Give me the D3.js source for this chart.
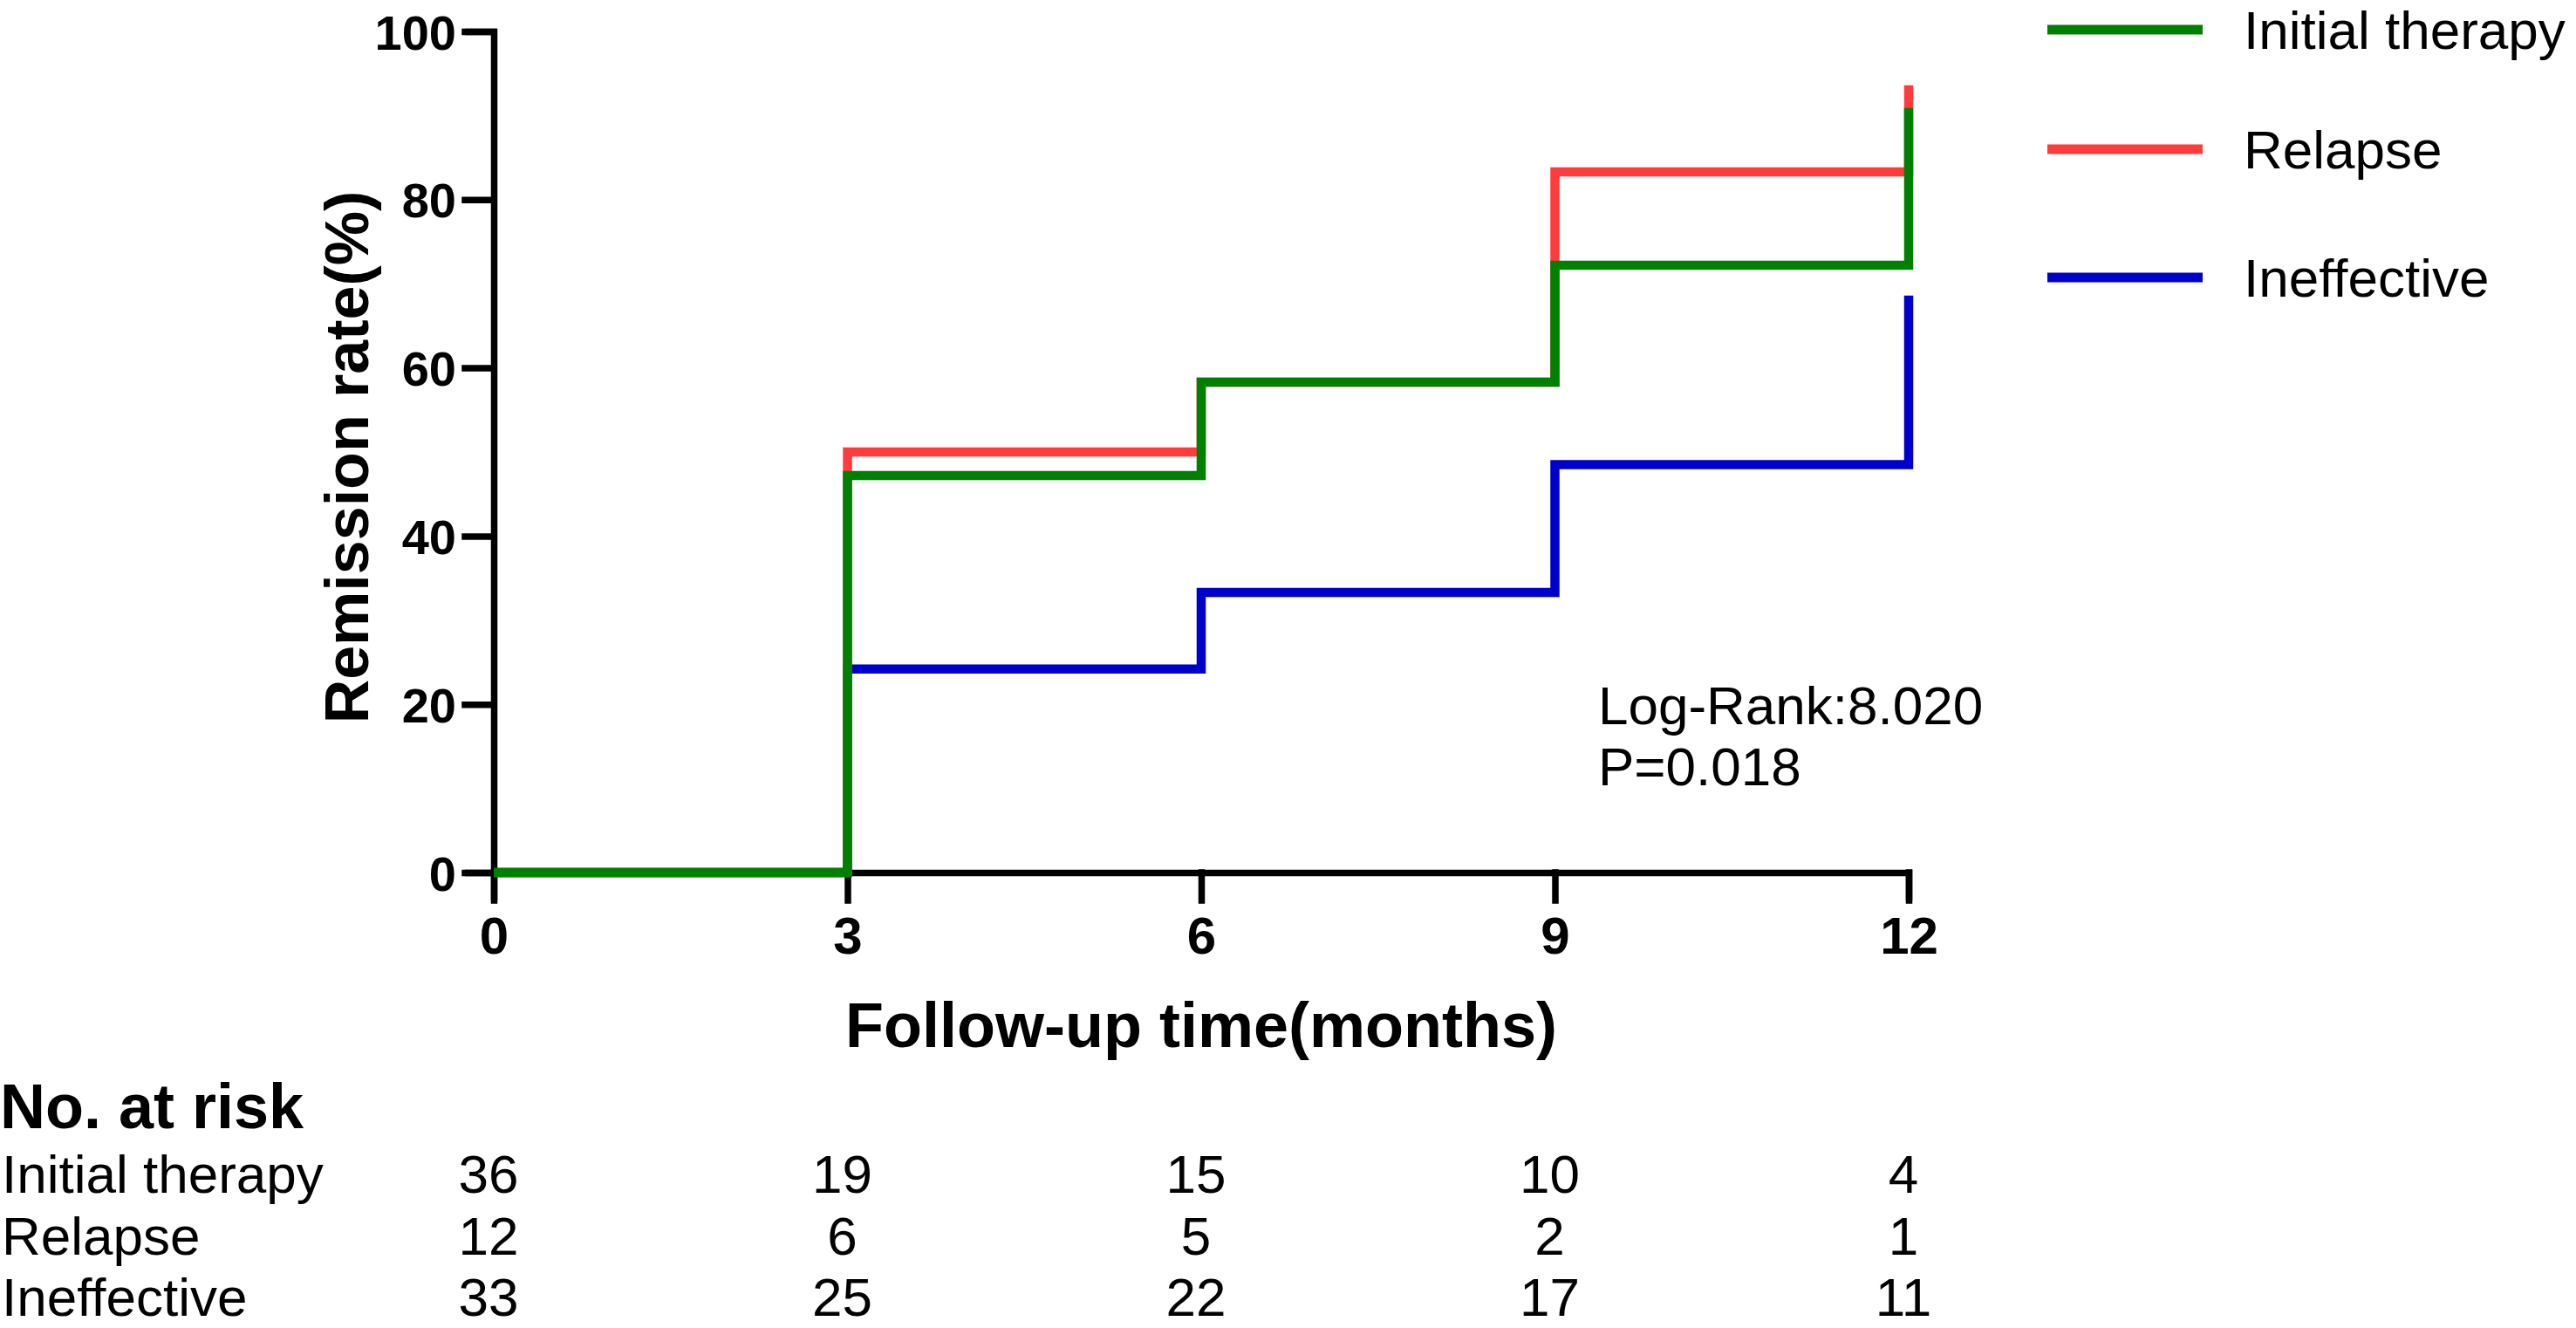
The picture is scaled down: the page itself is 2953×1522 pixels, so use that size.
<!DOCTYPE html>
<html lang="en">
<head>
  <meta charset="UTF-8">
  <title>Remission rate by group</title>
  <script src="https://d3js.org/d3.v7.min.js"></script>
  <style>
    html, body {
      margin: 0;
      padding: 0;
      background: #fff;
    }
    svg {
      display: block;
      font-family: "Liberation Sans", Arial, sans-serif;
    }
  </style>
</head>
<body>
  <div id="chart"></div>

  <script>
    // ---- data ----
    const months = [0, 3, 6, 9, 12];
    const groups = ["Initial therapy", "Relapse", "Ineffective"];
    const initialRate = [0, 47.2, 58.3, 72.2, 90.9];
    const relapseRate = [0, 50.0, 58.3, 83.3, 93.6];
    const ineffectiveRate = [0, 24.2, 33.3, 48.5, 68.6];
    const yTicks = [0, 20, 40, 60, 80, 100];
    const xTicks = [0, 3, 6, 9, 12];
    const riskInitial = [36, 19, 15, 10, 4];
    const riskRelapse = [12, 6, 5, 2, 1];
    const riskIneffective = [33, 25, 22, 17, 11];
    const statLines = ["Log-Rank:8.020", "P=0.018"];

    const width = 2953, height = 1522;
    const colors = {
      "Initial therapy": "#008000",
      "Relapse": "#ff3b3b",
      "Ineffective": "#0000cc"
    };

    const svg = d3.select("#chart").append("svg")
        .attr("width", width)
        .attr("height", height);

    const x = d3.scaleLinear().domain([0, 12]).range([566, 2188]);
    const y = d3.scaleLinear().domain([0, 100]).range([1000, 36]);

    // axes
    const xAxis = svg.append("g")
        .attr("transform", `translate(0,${y(0)})`)
        .call(d3.axisBottom(x).tickValues(xTicks).tickSize(32).tickSizeOuter(32).tickFormat(d3.format("d")));
    const yAxis = svg.append("g")
        .attr("transform", `translate(${x(0)},0)`)
        .call(d3.axisLeft(y).tickValues(yTicks).tickSize(33).tickSizeOuter(33));

    [xAxis, yAxis].forEach(g => {
      g.selectAll("path, line")
        .attr("stroke", "#000")
        .attr("stroke-width", 7.5)
        .attr("stroke-linecap", "square");
      g.select(".domain").attr("stroke-linejoin", "miter").attr("stroke-linecap", "butt");
      g.selectAll("text")
        .attr("fill", "#000")
        .attr("font-family", "'Liberation Sans', Arial, sans-serif")
        .attr("font-weight", "bold");
    });
    xAxis.selectAll("text")
        .attr("font-size", 60)
        .attr("y", 93)
        .attr("dy", 0);
    yAxis.selectAll("text")
        .attr("font-size", 56)
        .attr("x", -43)
        .attr("dy", 20);

    // curves (green drawn last, on top)
    const series = [
      {name: "Ineffective", values: ineffectiveRate},
      {name: "Relapse", values: relapseRate},
      {name: "Initial therapy", values: initialRate}
    ];

    const line = d3.line()
        .x((d, i) => x(months[i]))
        .y(d => y(d))
        .curve(d3.curveStepAfter);

    svg.append("g")
      .selectAll("path")
      .data(series)
      .join("path")
        .attr("d", d => line(d.values))
        .attr("fill", "none")
        .attr("stroke", d => colors[d.name])
        .attr("stroke-width", 10.5)
        .attr("stroke-linejoin", "miter")
        .attr("stroke-linecap", "butt");

    // axis titles
    svg.append("text")
        .attr("x", (x(0) + x(12)) / 2)
        .attr("y", 1200)
        .attr("text-anchor", "middle")
        .attr("font-size", 72)
        .attr("font-weight", "bold")
        .text("Follow-up time(months)");

    svg.append("text")
        .attr("transform", `translate(422,${(y(0) + y(100)) / 2 + 6}) rotate(-90)`)
        .attr("text-anchor", "middle")
        .attr("font-size", 70)
        .attr("font-weight", "bold")
        .text("Remission rate(%)");

    // log-rank annotation
    svg.append("g")
      .selectAll("text")
      .data(statLines)
      .join("text")
        .attr("x", 1832)
        .attr("y", (d, i) => 830 + i * 70)
        .attr("font-size", 62)
        .text(d => d);

    // legend
    const legendY = [34, 171, 318];
    const legend = svg.append("g")
      .selectAll("g")
      .data(groups)
      .join("g")
        .attr("transform", (d, i) => `translate(0,${legendY[i]})`);
    legend.append("line")
        .attr("x1", 2347).attr("x2", 2525)
        .attr("stroke", d => colors[d])
        .attr("stroke-width", 11);
    legend.append("text")
        .attr("x", 2572)
        .attr("y", 22)
        .attr("font-size", 62)
        .text(d => d);

    // number at risk table
    svg.append("text")
        .attr("x", 0)
        .attr("y", 1293)
        .attr("font-size", 72)
        .attr("font-weight", "bold")
        .text("No. at risk");

    const riskRows = [riskInitial, riskRelapse, riskIneffective];
    const rowY = [1367, 1438, 1508];
    const rows = svg.append("g")
      .selectAll("g")
      .data(riskRows)
      .join("g")
        .attr("transform", (d, i) => `translate(0,${rowY[i]})`);
    rows.append("text")
        .attr("x", 2)
        .attr("font-size", 62)
        .text((d, i) => groups[i]);
    rows.selectAll("text.n")
      .data(d => d)
      .join("text")
        .attr("class", "n")
        .attr("x", (d, i) => x(months[i]) - 6)
        .attr("text-anchor", "middle")
        .attr("font-size", 62)
        .text(d => d);
  </script>
</body>
</html>
